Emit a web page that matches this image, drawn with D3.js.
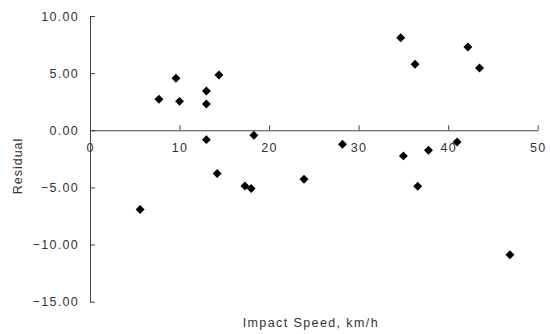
<!DOCTYPE html>
<html>
<head>
<meta charset="utf-8">
<script src="https://cdn.jsdelivr.net/npm/d3@7"></script>
<style>
  body { margin: 0; background: #fff; }
  .axis path, .axis line { stroke: #444; }
</style>
</head>
<body>
<div id="chart"></div>
<script>
// impact speed (km/h) and residual
const speed = [7.7, 9.6, 10.0, 14.4, 13.0, 13.0, 13.0, 18.3, 14.2, 17.3, 18.0, 23.9, 28.2,
  34.7, 36.3, 42.2, 43.5, 41.0, 35.0, 37.8, 36.6, 46.9, 5.6];
const residual = [2.71, 4.55, 2.53, 4.83, 3.44, 2.30, -0.82, -0.44, -3.79, -4.87, -5.10, -4.28, -1.22,
  8.10, 5.77, 7.28, 5.45, -1.02, -2.24, -1.75, -4.90, -10.9, -6.94];
const xTicks = [0, 10, 20, 30, 40, 50];
const yTicks = [10, 5, 0, -5, -10, -15];

const data = speed.map((s, i) => ({ x: s, y: residual[i] }));
const font = 'Liberation Sans, Arial, sans-serif';

const svg = d3.select('#chart').append('svg')
  .attr('width', 550)
  .attr('height', 334);

const margin = { top: 16, right: 12, bottom: 32, left: 90 };
const width = 537.7 - margin.left;
const height = 301.7 - margin.top;

const g = svg.append('g')
  .attr('transform', `translate(${margin.left},${margin.top})`);

const x = d3.scaleLinear().domain([0, 50]).range([0, width]);
const y = d3.scaleLinear().domain([-15, 10]).range([height, 0]);

const yAxis = g.append('g')
  .attr('class', 'axis axis--y')
  .call(d3.axisLeft(y)
    .tickValues(yTicks)
    .tickFormat(d => d3.format('.2f')(d).replace('-', '\u2212'))
    .tickSizeInner(-5)
    .tickSizeOuter(0)
    .tickPadding(11));

const xAxis = g.append('g')
  .attr('class', 'axis axis--x')
  .attr('transform', `translate(0,${y(0)})`)
  .call(d3.axisBottom(x)
    .tickValues(xTicks)
    .tickSizeInner(-5)
    .tickSizeOuter(0)
    .tickPadding(13));

[yAxis, xAxis].forEach(a => a
  .attr('font-family', font)
  .attr('font-size', 12.5)
  .selectAll('text')
  .attr('fill', '#333')
  .style('letter-spacing', '1.3px'));

const diamond = d3.symbol().type(d3.symbolSquare).size(40);

g.selectAll('.dot')
  .data(data)
  .enter().append('path')
  .attr('class', 'dot')
  .attr('d', diamond)
  .attr('transform', d => `translate(${x(d.x)},${y(d.y)}) rotate(45)`)
  .attr('fill', '#000');

svg.append('text')
  .attr('transform', 'translate(22,166) rotate(-90)')
  .attr('text-anchor', 'middle')
  .attr('font-family', font)
  .attr('font-size', '12.5px')
  .style('letter-spacing', '1px')
  .attr('fill', '#333')
  .text('Residual');

svg.append('text')
  .attr('x', margin.left + width / 2 - 3)
  .attr('y', 327)
  .attr('text-anchor', 'middle')
  .attr('font-family', font)
  .attr('font-size', '12.5px')
  .style('letter-spacing', '1.4px')
  .attr('fill', '#333')
  .text('Impact Speed, km/h');
</script>
</body>
</html>
